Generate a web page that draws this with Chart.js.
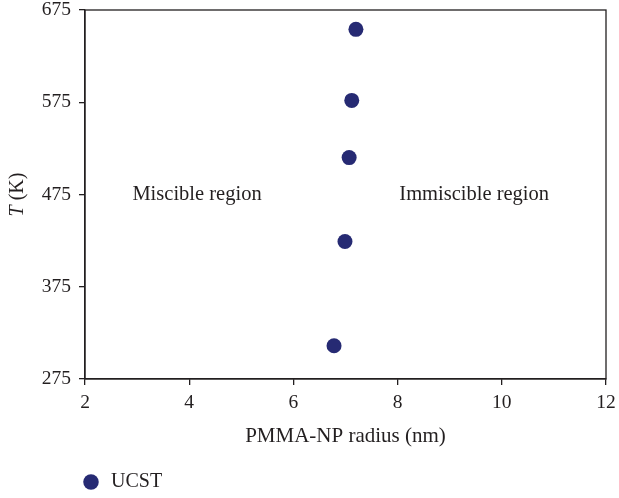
<!DOCTYPE html>
<html>
<head>
<meta charset="utf-8">
<script src="https://cdn.jsdelivr.net/npm/chart.js@4.4.0/dist/chart.umd.min.js"></script>
<style>
  html, body { margin: 0; padding: 0; background: #fff; }
  #wrap { width: 619px; height: 498px; }
</style>
</head>
<body>
<div id="wrap"><canvas id="chart" width="619" height="498"></canvas></div>
<script>
// data
const seriesName = 'UCST';
const radiusNm = [7.20, 7.12, 7.07, 6.99, 6.78];
const tempK = [654, 577, 515, 424, 311];
const xTicks = [2, 4, 6, 8, 10, 12];
const yTicks = [275, 375, 475, 575, 675];
const regionLabels = [
  { text: 'Miscible region', x: 4.15, y: 475 },
  { text: 'Immiscible region', x: 9.47, y: 475 }
];

const FONT = "'Liberation Serif', 'Times New Roman', serif";
const INK = '#231f20';
const DOT = '#262a73';

// box around the plot, region labels, y title with italic T
const decor = {
  id: 'decor',
  afterLayout(chart) {
    // put the legend where the figure has it
    const lg = chart.legend;
    const h = lg.bottom - lg.top;
    lg.left = 81;
    lg.top = 472;
    lg.bottom = lg.top + h;
  },
  afterDraw(chart) {
    const { ctx, chartArea: a, scales } = chart;
    ctx.save();
    ctx.strokeStyle = INK;
    ctx.lineWidth = 1.3;
    ctx.strokeRect(a.left, a.top, a.right - a.left, a.bottom - a.top);

    ctx.fillStyle = INK;
    ctx.font = '20.5px ' + FONT;
    ctx.textAlign = 'center';
    ctx.textBaseline = 'middle';
    regionLabels.forEach(r => {
      ctx.fillText(r.text, scales.x.getPixelForValue(r.x), scales.y.getPixelForValue(r.y));
    });

    // y axis title
    ctx.translate(18, (a.top + a.bottom) / 2);
    ctx.rotate(-Math.PI / 2);
    const italic = 'italic 20px ' + FONT;
    const upright = '20px ' + FONT;
    ctx.font = italic;
    const wT = ctx.measureText('T').width;
    ctx.font = upright;
    const wRest = ctx.measureText(' (K)').width;
    const start = -(wT + wRest) / 2;
    ctx.textAlign = 'left';
    ctx.font = italic;
    ctx.fillText('T', start, 0);
    ctx.font = upright;
    ctx.fillText(' (K)', start + wT, 0);
    ctx.restore();
  }
};

new Chart(document.getElementById('chart'), {
  type: 'scatter',
  data: {
    datasets: [{
      label: seriesName,
      data: radiusNm.map((x, i) => ({ x: x, y: tempK[i] })),
      backgroundColor: DOT,
      borderColor: DOT,
      pointRadius: 7.5,
      pointHoverRadius: 7.5,
      borderWidth: 0
    }]
  },
  options: {
    responsive: false,
    animation: false,
    layout: { padding: 0 },
    plugins: {
      tooltip: { enabled: false },
      legend: {
        position: 'bottom',
        align: 'start',
        fullSize: false,
        labels: {
          usePointStyle: true,
          pointStyle: 'circle',
          boxWidth: 20,
          boxHeight: 11,
          padding: 0,
          color: INK,
          font: { family: FONT, size: 20 }
        }
      }
    },
    scales: {
      x: {
        type: 'linear',
        min: 2,
        max: 12,
        afterBuildTicks: s => { s.ticks = xTicks.map(v => ({ value: v })); },
        afterFit: s => { s.height = 89; s.paddingLeft = 0; s.paddingRight = 13; },
        ticks: { color: INK, font: { family: FONT, size: 19.5 }, padding: 6 },
        grid: { drawOnChartArea: false, drawTicks: true, tickLength: 6, color: INK, lineWidth: 1.3 },
        border: { display: true, color: INK, width: 1.3 },
        title: {
          display: true,
          text: 'PMMA-NP radius (nm)',
          color: INK,
          font: { family: FONT, size: 21 },
          padding: { top: 6, bottom: 19 }
        }
      },
      y: {
        type: 'linear',
        min: 275,
        max: 675,
        afterBuildTicks: s => { s.ticks = yTicks.map(v => ({ value: v })); },
        afterFit: s => { s.width = 85; s.paddingTop = 10; s.paddingBottom = 0; },
        ticks: { color: INK, font: { family: FONT, size: 19.5 }, padding: 8 },
        grid: { drawOnChartArea: false, drawTicks: true, tickLength: 6, color: INK, lineWidth: 1.3 },
        border: { display: true, color: INK, width: 1.3 }
      }
    }
  },
  plugins: [decor]
});
</script>
</body>
</html>
